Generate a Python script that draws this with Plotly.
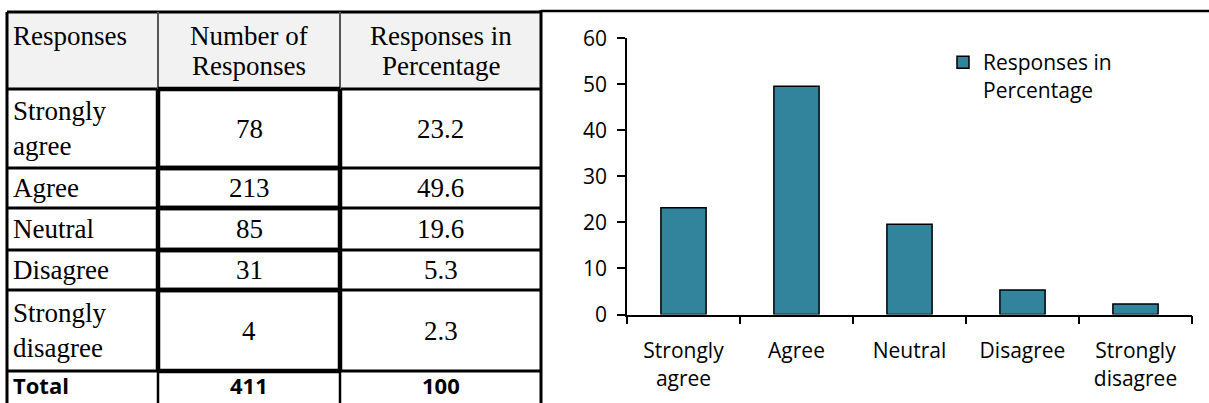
import plotly.graph_objects as go

# ---------------- data ----------------
responses = ["Strongly agree", "Agree", "Neutral", "Disagree", "Strongly disagree"]
row_labels = ["Strongly<br>agree", "Agree", "Neutral", "Disagree", "Strongly<br>disagree"]
axis_labels = ["Strongly<br>agree", "Agree", "Neutral", "Disagree", "Strongly<br>disagree"]
counts = [78, 213, 85, 31, 4]
percentages = [23.2, 49.6, 19.6, 5.3, 2.3]
total_label = "Total"
total_count = 411
total_pct = 100
header_labels = ["Responses", "Number of<br>Responses", "Responses in<br>Percentage"]
series_name = "Responses in<br>Percentage"

# ---------------- layout constants (pixels) ----------------
W, H = 1209, 403
col_edges = [7, 158, 340, 541]
row_edges = [12, 89, 168, 208, 250, 290, 371, 403]
BAR_COLOR = "#31849B"
SERIF = "Liberation Serif"
SANS = "Open Sans"

fig = go.Figure()

fig.add_trace(go.Bar(
    x=responses, y=percentages, name=series_name,
    marker=dict(color=BAR_COLOR, line=dict(color="black", width=1.5)),
    xaxis="x", yaxis="y", showlegend=True,
))

fig.add_trace(go.Scatter(x=[0, W], y=[0, H], mode="markers", marker=dict(opacity=0),
                         xaxis="x2", yaxis="y2", showlegend=False, hoverinfo="skip"))

shapes = []
def hline(x0, x1, y, w, color="black"):
    shapes.append(dict(type="line", xref="x2", yref="y2", x0=x0, x1=x1, y0=y, y1=y,
                       line=dict(color=color, width=w), layer="above"))
def vline(x, y0, y1, w, color="black"):
    shapes.append(dict(type="line", xref="x2", yref="y2", x0=x, x1=x, y0=y0, y1=y1,
                       line=dict(color=color, width=w), layer="above"))

shapes.append(dict(type="rect", xref="x2", yref="y2", x0=col_edges[0], x1=col_edges[-1],
                   y0=row_edges[0], y1=row_edges[1], fillcolor="#f2f2f2",
                   line=dict(width=0), layer="below"))

BOTTOM = row_edges[-1] + 10
for y in row_edges[:-1]:
    hline(col_edges[0], col_edges[-1], y, 3)
hline(col_edges[-1], W, row_edges[0] - 1, 2.5)
vline(col_edges[0], row_edges[0], BOTTOM, 3)
vline(col_edges[-1], row_edges[0] - 2, BOTTOM, 3)
vline(col_edges[1], row_edges[0], BOTTOM, 2, "#555555")
vline(col_edges[2], row_edges[0], BOTTOM, 2, "#555555")
n = len(responses)
for i in range(n):
    y0, y1 = row_edges[i + 1], row_edges[i + 2]
    vline(col_edges[1], y0, y1, 4.5)
    vline(col_edges[2], y0, y1, 4.5)
    hline(col_edges[1], col_edges[2], y0, 4.5)
    hline(col_edges[1], col_edges[2], y1, 4.5)
vline(col_edges[1], row_edges[-2], BOTTOM, 2.5)
vline(col_edges[2], row_edges[-2], BOTTOM, 2.5)

annotations = []
SERIF_FONT = dict(family=SERIF, size=27, color="black")
def put(text, x, y, xanchor, align, font):
    annotations.append(dict(text=text, x=x, y=y, xref="x2", yref="y2", xanchor=xanchor,
                            yanchor="middle", align=align, showarrow=False, font=font))

def cell_text(text, col, row, align="center", font=None, top=False):
    font = font or SERIF_FONT
    if align == "left":
        x, xanchor = col_edges[col] + 4, "left"
    else:
        x, xanchor = (col_edges[col] + col_edges[col + 1]) / 2, "center"
    yc = (row_edges[row] + row_edges[row + 1]) / 2
    put(text, x, yc - 2 if row == n + 1 else yc, xanchor, align, font)

# header: lines placed individually (tighter line spacing, like the reference)
HEADER_GAP = 30
hc = (row_edges[0] + row_edges[1]) / 2
put(header_labels[0], col_edges[0] + 4, hc - HEADER_GAP / 2, "left", "left", SERIF_FONT)
for col in (1, 2):
    lines = header_labels[col].split("<br>")
    xc = (col_edges[col] + col_edges[col + 1]) / 2
    for k, line in enumerate(lines):
        put(line, xc, hc + (k - (len(lines) - 1) / 2) * HEADER_GAP, "center", "center", SERIF_FONT)

for i in range(n):
    cell_text(row_labels[i], 0, i + 1, align="left")
    cell_text(str(counts[i]), 1, i + 1)
    cell_text(f"{percentages[i]:.1f}", 2, i + 1)
bold = dict(family=SANS, size=22, color="black", weight="bold")
cell_text(f"<b>{total_label}</b>", 0, n + 1, align="left", font=bold)
cell_text(f"<b>{total_count}</b>", 1, n + 1, font=bold)
cell_text(f"<b>{total_pct}</b>", 2, n + 1, font=bold)

fig.update_layout(
    width=W, height=H,
    margin=dict(l=0, r=0, t=0, b=0, pad=0, autoexpand=False),
    paper_bgcolor="white", plot_bgcolor="rgba(0,0,0,0)",
    bargap=0.6,
    showlegend=True,
    legend=dict(x=943 / W, y=(H - 42) / H, xanchor="left", yanchor="top",
                font=dict(family=SANS, size=21, color="black"),
                bgcolor="rgba(0,0,0,0)", valign="top"),
    xaxis=dict(domain=[627 / W, 1192 / W], anchor="y",
               tickvals=responses, ticktext=axis_labels,
               tickfont=dict(family=SANS, size=21, color="black"),
               showline=True, linecolor="black", linewidth=1.5,
               ticks="outside", ticklen=8, tickcolor="black", tickwidth=1.5,
               ticklabelstandoff=17,
               tickson="boundaries", showgrid=False, zeroline=False, fixedrange=True),
    yaxis=dict(domain=[(H - 314.5) / H, (H - 38.3) / H], anchor="x",
               range=[0, 60], dtick=10,
               tickfont=dict(family=SANS, size=21, color="black"),
               showline=True, linecolor="black", linewidth=1.5,
               ticks="outside", ticklen=8, tickcolor="black", tickwidth=1.5,
               ticklabelstandoff=6,
               showgrid=False, zeroline=False, fixedrange=True),
    xaxis2=dict(domain=[0, 1], range=[0, W], visible=False, anchor="y2", fixedrange=True),
    yaxis2=dict(domain=[0, 1], range=[H, 0], visible=False, anchor="x2", fixedrange=True),
    shapes=shapes,
    annotations=annotations,
)

fig.write_html(
    "out.html",
    config={"displayModeBar": False},
    post_script="document.body.style.margin='0';document.body.style.overflow='hidden';",
)
